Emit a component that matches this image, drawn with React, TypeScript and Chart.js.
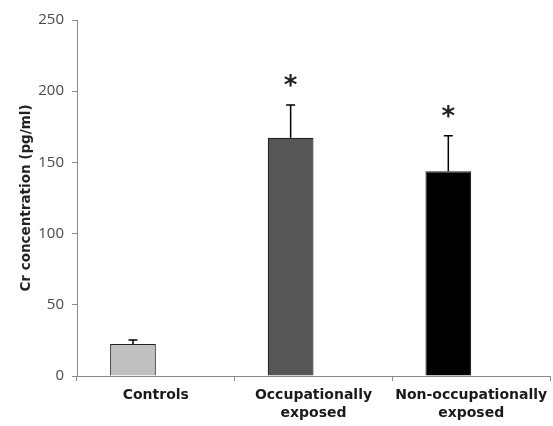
import React, { useEffect, useRef } from "react";
import { Chart, registerables } from "chart.js";

Chart.register(...registerables);

const categories: (string | string[])[] = [
  "Controls",
  ["Occupationally", "exposed"],
  ["Non-occupationally", "exposed"],
];
const means = [22.5, 167.3, 143.7];
const errors = [2.8, 23.0, 25.0];
const significant = [false, true, true];
const barColors = ["#c0c0c0", "#565656", "#000000"];
const yTicks = [0, 50, 100, 150, 200, 250];

const errorBarPlugin = {
  id: "errorBars",
  afterDatasetsDraw(chart: any) {
    const meta = chart.getDatasetMeta(0);
    const y = chart.scales.y;
    const ctx = chart.ctx;
    ctx.save();
    meta.data.forEach((bar: any, i: number) => {
      const x = bar.x;
      const yTop = y.getPixelForValue(means[i] + errors[i]);
      const yBase = y.getPixelForValue(means[i]);
      ctx.strokeStyle = "#000";
      ctx.lineWidth = 1.5;
      ctx.beginPath();
      ctx.moveTo(x, yBase);
      ctx.lineTo(x, yTop);
      ctx.moveTo(x - 4.5, yTop);
      ctx.lineTo(x + 4.5, yTop);
      ctx.stroke();
      if (significant[i]) {
        ctx.fillStyle = "#222";
        ctx.font = "bold 26px 'DejaVu Sans'";
        ctx.textAlign = "center";
        ctx.textBaseline = "alphabetic";
        ctx.fillText("*", x, yTop - 11);
      }
    });
    ctx.restore();
  },
};

export default function App() {
  const ref = useRef<HTMLCanvasElement>(null);
  useEffect(() => {
    if (!ref.current) return;
    const chart = new Chart(ref.current, {
      type: "bar",
      data: {
        labels: categories,
        datasets: [
          {
            data: means,
            backgroundColor: barColors,
            borderColor: "#222",
            borderWidth: 1.2,
            categoryPercentage: 0.58,
            barPercentage: 1.0,
          },
          {
            data: [null, null, null],
            categoryPercentage: 0.58,
            barPercentage: 1.0,
          },
        ],
      },
      options: {
        responsive: false,
        animation: false,
        events: [],
        layout: { padding: { left: 0, right: 3, top: 20, bottom: 0 } },
        plugins: {
          legend: { display: false },
          tooltip: { enabled: false },
        },
        scales: {
          x: {
            grid: {
              offset: true,
              drawOnChartArea: false,
              drawTicks: true,
              tickLength: 5,
              color: "#8a8a8a",
            },
            border: { color: "#8a8a8a", width: 1 },
            ticks: {
              color: "#1a1a1a",
              font: { family: "'DejaVu Sans'", size: 14, weight: "bold", lineHeight: 1.3 },
              padding: 5,
              maxRotation: 0,
              autoSkip: false,
            },
            afterFit: (s: any) => {
              s.height = 50;
            },
          },
          y: {
            min: 0,
            max: 250,
            afterBuildTicks: (s: any) => {
              s.ticks = yTicks.map((v) => ({ value: v }));
            },
            grid: {
              drawOnChartArea: false,
              drawTicks: true,
              tickLength: 5,
              color: "#8a8a8a",
            },
            border: { color: "#8a8a8a", width: 1 },
            ticks: {
              color: "#4a4a4a",
              font: { family: "'Open Sans'", size: 15 },
              padding: 8,
            },
            title: {
              display: true,
              text: "Cr concentration (pg/ml)",
              color: "#222",
              font: { family: "'DejaVu Sans'", size: 13.5, weight: "bold" },
              padding: { top: 18, bottom: 0 },
            },
            afterFit: (s: any) => {
              s.width = 77;
            },
          },
        },
      },
      plugins: [errorBarPlugin],
    });
    return () => chart.destroy();
  }, []);
  return (
    <div style={{ position: "fixed", left: 0, top: 0, width: 553, height: 426, background: "#fff" }}>
      <canvas ref={ref} width={553} height={426} />
    </div>
  );
}
